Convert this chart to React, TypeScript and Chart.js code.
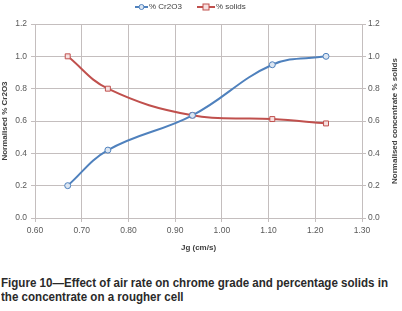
import React, { useEffect, useRef } from "react";
import { Chart, registerables } from "chart.js";

Chart.register(...registerables);

const jg = [0.67, 0.756, 0.937, 1.108, 1.223];
const cr2o3 = [0.2, 0.42, 0.635, 0.948, 1.0];
const solids = [1.0, 0.8, 0.635, 0.612, 0.585];
const seriesNames = ["% Cr2O3", "% solids"];
const leftTitle = "Normalised % Cr2O3";
const rightTitle = "Normalised concentrate % solids";
const xTitle = "Jg (cm/s)";
const caption1 = "Figure 10\u2014Effect of air rate on chrome grade and percentage solids in";
const caption2 = "the concentrate on a rougher cell";

const BLUE = "#4F81BD";
const RED = "#C0504D";
const GRID = "#C4BEBE";
const TICK = "#595959";
const FONT = "'Liberation Sans', Arial, sans-serif";
const CAPTION_FONT = `bold 12.5px 'Liberation Sans', Arial, sans-serif`;

function captionScale(): number {
  try {
    const c = document.createElement("canvas").getContext("2d");
    if (!c) return 0.88;
    c.font = CAPTION_FONT;
    const w = c.measureText(caption1).width;
    return w > 0 ? 387 / w : 0.88;
  } catch {
    return 0.88;
  }
}

const decorPlugin = {
  id: "decor",
  afterDraw(chart: any) {
    const ctx = chart.ctx;
    const ca = chart.chartArea;
    const midY = (ca.top + ca.bottom) / 2;
    ctx.save();
    ctx.fillStyle = "#404040";
    ctx.font = `bold 8px ${FONT}`;
    ctx.textAlign = "center";
    ctx.textBaseline = "middle";
    ctx.save();
    ctx.translate(5, midY);
    ctx.rotate(-Math.PI / 2);
    ctx.fillText(leftTitle, 0, 0);
    ctx.restore();
    ctx.save();
    ctx.translate(395, midY);
    ctx.rotate(-Math.PI / 2);
    ctx.fillText(rightTitle, 0, 0);
    ctx.restore();
    ctx.fillText(xTitle, (ca.left + ca.right) / 2, 248);

    const ly = 7;
    ctx.font = `8px ${FONT}`;
    ctx.textAlign = "left";
    ctx.lineWidth = 2;
    ctx.strokeStyle = BLUE;
    ctx.beginPath();
    ctx.moveTo(135, ly);
    ctx.lineTo(148, ly);
    ctx.stroke();
    ctx.lineWidth = 1;
    ctx.fillStyle = "#DCE6F2";
    ctx.beginPath();
    ctx.arc(141.5, ly, 2.5, 0, Math.PI * 2);
    ctx.fill();
    ctx.stroke();
    ctx.fillStyle = "#404040";
    ctx.fillText(seriesNames[0], 149, ly);

    ctx.lineWidth = 2;
    ctx.strokeStyle = RED;
    ctx.beginPath();
    ctx.moveTo(197, ly);
    ctx.lineTo(215, ly);
    ctx.stroke();
    ctx.lineWidth = 1;
    ctx.fillStyle = "#F6E0E0";
    ctx.fillRect(203, ly - 3, 6, 6);
    ctx.strokeRect(203, ly - 3, 6, 6);
    ctx.fillStyle = "#404040";
    ctx.fillText(seriesNames[1], 216, ly);
    ctx.restore();
  },
};

export default function App() {
  const ref = useRef<HTMLCanvasElement | null>(null);
  const scale = captionScale();
  useEffect(() => {
    if (!ref.current) return;
    const chart = new Chart(ref.current, {
      type: "scatter",
      data: {
        datasets: [
          {
            label: seriesNames[0],
            data: jg.map((x, i) => ({ x, y: cr2o3[i] })),
            showLine: true,
            borderColor: BLUE,
            borderWidth: 2,
            tension: 0.4,
            pointStyle: "circle",
            pointRadius: 3,
            pointBorderWidth: 1,
            pointBackgroundColor: "#DCE6F2",
            pointBorderColor: BLUE,
            yAxisID: "y",
          },
          {
            label: seriesNames[1],
            data: jg.map((x, i) => ({ x, y: solids[i] })),
            showLine: true,
            borderColor: RED,
            borderWidth: 2,
            tension: 0.4,
            pointStyle: "rect",
            pointRadius: 3.5,
            pointBorderWidth: 1,
            pointBackgroundColor: "#F6E0E0",
            pointBorderColor: RED,
            yAxisID: "y2",
          },
        ],
      },
      options: {
        animation: false,
        responsive: false,
        maintainAspectRatio: false,
        layout: { padding: { left: 0, right: 0, top: 24, bottom: 0 } },
        plugins: { legend: { display: false }, tooltip: { enabled: false } },
        scales: {
          x: {
            type: "linear",
            min: 0.6,
            max: 1.3,
            afterFit: (s: any) => { s.height = 42; },
            ticks: {
              stepSize: 0.1,
              padding: 4,
              color: TICK,
              font: { family: FONT, size: 8.5 },
              callback: (v: any) => Number(v).toFixed(2),
            },
            grid: { color: GRID, tickLength: 4, lineWidth: 1 },
            border: { color: GRID },
          },
          y: {
            position: "left",
            min: 0,
            max: 1.2,
            afterFit: (s: any) => { s.width = 35; },
            ticks: {
              stepSize: 0.2,
              padding: 4,
              color: TICK,
              font: { family: FONT, size: 8.5 },
              callback: (v: any) => Number(v).toFixed(1),
            },
            grid: { color: GRID, tickLength: 4 },
            border: { color: GRID },
          },
          y2: {
            position: "right",
            min: 0,
            max: 1.2,
            afterFit: (s: any) => { s.width = 40; },
            ticks: {
              stepSize: 0.2,
              padding: 2,
              color: TICK,
              font: { family: FONT, size: 8.5 },
              callback: (v: any) => Number(v).toFixed(1),
            },
            grid: { color: GRID, tickLength: 4, drawOnChartArea: false },
            border: { color: GRID },
          },
        },
      },
      plugins: [decorPlugin],
    });
    return () => chart.destroy();
  }, []);

  return (
    <div style={{ position: "absolute", left: 0, top: 0, width: 402, height: 311, background: "#fff", overflow: "hidden" }}>
      <canvas ref={ref} width={402} height={260} style={{ display: "block", width: 402, height: 260 }} />
      <div
        style={{
          position: "absolute",
          left: 1,
          top: 276,
          font: CAPTION_FONT,
          lineHeight: "14px",
          color: "#2a2a2a",
          whiteSpace: "nowrap",
          transform: `scaleX(${scale})`,
          transformOrigin: "0 0",
        }}
      >
        <div>{caption1}</div>
        <div>{caption2}</div>
      </div>
    </div>
  );
}
